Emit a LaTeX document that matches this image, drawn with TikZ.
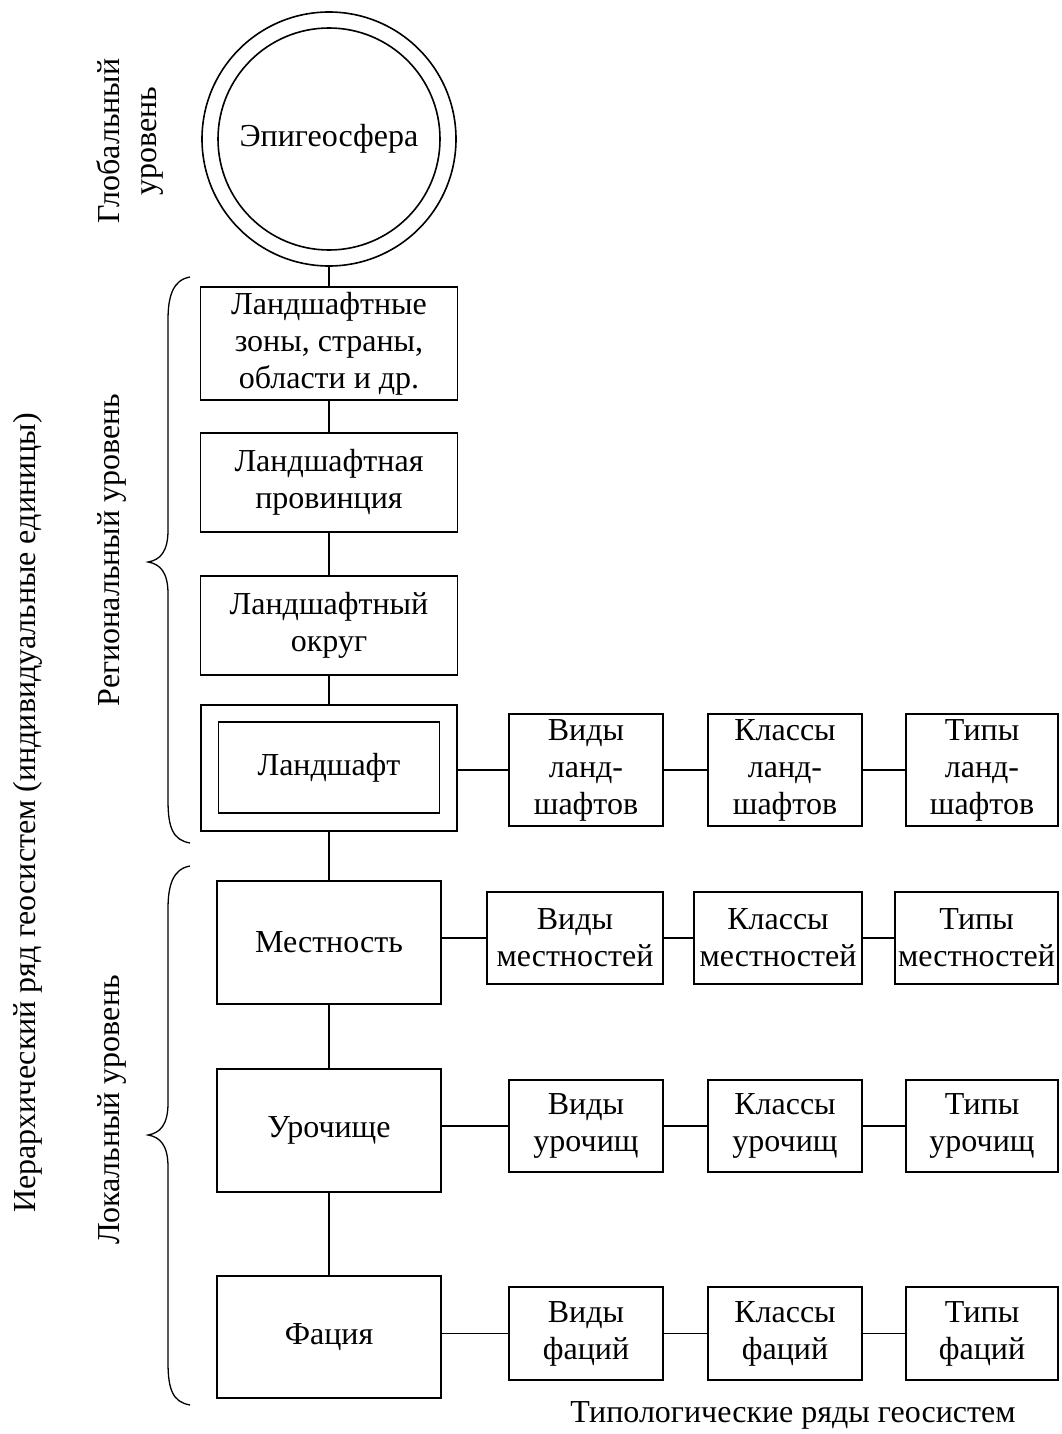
\documentclass[tikz,border=0pt]{standalone}
\usepackage{fontspec}
\setmainfont{Liberation Serif}
\newcommand\fsz{\fontsize{32}{37}\selectfont}
\begin{document}
\begin{tikzpicture}[x=1pt,y=-1pt,
  every node/.style={font=\fsz, outer sep=0pt, inner sep=0pt, align=center},
  box/.style={draw, line width=1.6pt, rectangle},
  ring/.style={draw, line width=1.6pt, circle},
  conn/.style={line width=1.6pt},
  brc/.style={line width=1.3pt},
  lbl/.style={rotate=90}]
\useasboundingbox (0,0) rectangle (1061,1434);

% Global
\node[ring, minimum size=254pt] (epo) at (329,139) {};
\node[ring, minimum size=222pt] (ep) at (329,139) {Эпигеосфера};

% Main column
\node[box, minimum width=257pt, minimum height=113pt] (z1) at (329,343.5) {Ландшафтные\\зоны, страны,\\области и др.};
\node[box, minimum width=257pt, minimum height=99pt] (prov) at (329,482.5) {Ландшафтная\\провинция};
\node[box, minimum width=257pt, minimum height=99pt] (okr) at (329,625.5) {Ландшафтный\\округ};
\node[box, minimum width=256pt, minimum height=126pt] (lo) at (329,768) {};
\node[box, minimum width=221pt, minimum height=91pt] (li) at (329,767.5) {Ландшафт};
\node[box, minimum width=224pt, minimum height=123pt] (mest) at (329,942.5) {Местность};
\node[box, minimum width=224pt, minimum height=123pt] (uro) at (329,1130.5) {Урочище};
\node[box, minimum width=224pt, minimum height=122pt] (fac) at (329,1337) {Фация};

% Landscape row
\node[box, minimum width=154pt, minimum height=112pt] (v1) at (586,770) {Виды\\ланд-\\шафтов};
\node[box, minimum width=154pt, minimum height=112pt] (k1) at (785,770) {Классы\\ланд-\\шафтов};
\node[box, minimum width=152pt, minimum height=112pt] (t1) at (982,770) {Типы\\ланд-\\шафтов};

% Mestnost row
\node[box, minimum width=176pt, minimum height=92pt] (v2) at (575,938) {Виды\\местностей};
\node[box, minimum width=168pt, minimum height=92pt] (k2) at (778,938) {Классы\\местностей};
\node[box, minimum width=163pt, minimum height=92pt] (t2) at (976.5,938) {Типы\\местностей};

% Urochishche row
\node[box, minimum width=154pt, minimum height=92pt] (v3) at (586,1126) {Виды\\урочищ};
\node[box, minimum width=154pt, minimum height=92pt] (k3) at (785,1126) {Классы\\урочищ};
\node[box, minimum width=152pt, minimum height=92pt] (t3) at (982,1126) {Типы\\урочищ};

% Facia row
\node[box, minimum width=154pt, minimum height=93pt] (v4) at (586,1333.5) {Виды\\фаций};
\node[box, minimum width=154pt, minimum height=93pt] (k4) at (785,1333.5) {Классы\\фаций};
\node[box, minimum width=152pt, minimum height=93pt] (t4) at (982,1333.5) {Типы\\фаций};

\node (cap) at (793,1415) {Типологические ряды геосистем};

% Side labels
\node[lbl] (glob) at (130,141) {Глобальный\\уровень};
\node[lbl] (reg) at (112,550) {Региональный уровень};
\node[lbl] (loc) at (112,1110) {Локальный уровень};
\node[lbl] (hier) at (28,813) {Иерархический ряд геосистем (индивидуальные единицы)};

% Vertical connectors
\draw[conn] (epo.south) -- (z1.north);
\draw[conn] (z1.south) -- (prov.north);
\draw[conn] (prov.south) -- (okr.north);
\draw[conn] (okr.south) -- (lo.north);
\draw[conn] (lo.south) -- (mest.north);
\draw[conn] (mest.south) -- (uro.north);
\draw[conn] (uro.south) -- (fac.north);

% Horizontal connectors
\draw[conn] (v1.west -| lo.east) -- (v1.west);
\draw[conn] (v1.east) -- (k1.west);
\draw[conn] (k1.east) -- (t1.west);
\draw[conn] (v2.west -| mest.east) -- (v2.west);
\draw[conn] (v2.east) -- (k2.west);
\draw[conn] (k2.east) -- (t2.west);
\draw[conn] (v3.west -| uro.east) -- (v3.west);
\draw[conn] (v3.east) -- (k3.west);
\draw[conn] (k3.east) -- (t3.west);
\draw[conn] (v4.west -| fac.east) -- (v4.west);
\draw[conn] (v4.east) -- (k4.west);
\draw[conn] (k4.east) -- (t4.west);

% Braces
\draw[brc] (190,277) .. controls (173,280) and (168,296) .. (168,320) -- (168,530)
  .. controls (168,552) and (160,560) .. (148,562)
  .. controls (160,564) and (168,572) .. (168,594) -- (168,800)
  .. controls (168,828) and (173,840) .. (190,843);
\draw[brc] (190,866) .. controls (173,869) and (168,885) .. (168,909) -- (168,1103)
  .. controls (168,1125) and (160,1133) .. (148,1135)
  .. controls (160,1137) and (168,1145) .. (168,1167) -- (168,1362)
  .. controls (168,1390) and (173,1402) .. (190,1405);
\end{tikzpicture}
\end{document}
